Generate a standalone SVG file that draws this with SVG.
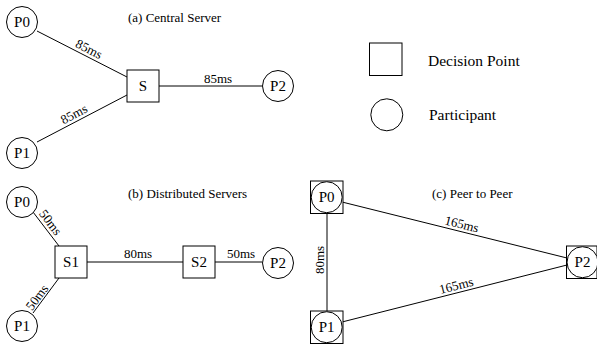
<svg xmlns="http://www.w3.org/2000/svg" width="597" height="346" viewBox="0 0 597 346">
<rect width="597" height="346" fill="#fff"/>
<g id="connectors">
<g stroke="#000" stroke-width="1">
<line x1="37" y1="31" x2="127" y2="77"/>
<line x1="37" y1="142" x2="127" y2="95"/>
<line x1="159" y1="86" x2="262" y2="86"/>
<line x1="33" y1="212" x2="59" y2="246"/>
<line x1="33" y1="313" x2="59" y2="278"/>
<line x1="87" y1="262" x2="183" y2="262"/>
<line x1="215" y1="262" x2="262" y2="262"/>
<line x1="342" y1="202" x2="567" y2="258"/>
<line x1="342" y1="322" x2="567" y2="265"/>
<line x1="327" y1="213" x2="327" y2="311"/>
</g>
<text font-family="Liberation Serif" font-size="13" text-anchor="middle" transform="translate(87,53) rotate(27)">85ms</text>
<text font-family="Liberation Serif" font-size="13" text-anchor="middle" transform="translate(76,118) rotate(-27.6)">85ms</text>
<text font-family="Liberation Serif" font-size="13" text-anchor="middle" x="218" y="83">85ms</text>
<text font-family="Liberation Serif" font-size="13" text-anchor="middle" transform="translate(47,225) rotate(52.6)">50ms</text>
<text font-family="Liberation Serif" font-size="13" text-anchor="middle" transform="translate(40.5,300) rotate(-53.4)">50ms</text>
<text font-family="Liberation Serif" font-size="13" text-anchor="middle" x="138" y="258">80ms</text>
<text font-family="Liberation Serif" font-size="13" text-anchor="middle" x="241" y="258">50ms</text>
<text font-family="Liberation Serif" font-size="13" text-anchor="middle" transform="translate(460.7,228.4) rotate(14)">165ms</text>
<text font-family="Liberation Serif" font-size="13" text-anchor="middle" transform="translate(457.3,289.8) rotate(-14.3)">165ms</text>
<text font-family="Liberation Serif" font-size="13" text-anchor="middle" transform="translate(324,260) rotate(-90)">80ms</text>
</g>
<g id="titles">
<text font-family="Liberation Serif" font-size="13" x="128" y="22">(a) Central Server</text>
<text font-family="Liberation Serif" font-size="13" x="128" y="198">(b) Distributed Servers</text>
<text font-family="Liberation Serif" font-size="13" x="432" y="198">(c) Peer to Peer</text>
</g>
<g fill="#fff" stroke="#000" stroke-width="1">
<g id="a-P0"><circle cx="22" cy="22" r="15.5"/></g>
<g id="a-P1"><circle cx="22" cy="153" r="15.5"/></g>
<g id="a-S"><rect x="127" y="70" width="32" height="32"/></g>
<g id="a-P2"><circle cx="278" cy="86" r="15.5"/></g>
<g id="b-P0"><circle cx="22" cy="202" r="15.5"/></g>
<g id="b-P1"><circle cx="22" cy="326" r="15.5"/></g>
<g id="b-S1"><rect x="55" y="246" width="32" height="32"/></g>
<g id="b-S2"><rect x="183" y="246" width="32" height="32"/></g>
<g id="b-P2"><circle cx="278" cy="263" r="15.5"/></g>
<g id="c-P0"><rect x="310.5" y="181" width="32.5" height="32.5"/><circle cx="326.7" cy="197.2" r="15.5"/></g>
<g id="c-P1"><rect x="310.5" y="311" width="32.5" height="32.5"/><circle cx="326.7" cy="327.2" r="15.5"/></g>
<g id="c-P2"><rect x="566.5" y="246" width="30.5" height="32.5"/><circle cx="582.5" cy="262.2" r="15.5"/></g>
<g id="legend-shapes"><rect x="369.5" y="43" width="32.5" height="32.5"/><circle cx="386.8" cy="114.8" r="16"/></g>
</g>
<g id="node-labels">
<text font-family="Liberation Serif" font-size="15" text-anchor="middle" x="22" y="27">P0</text>
<text font-family="Liberation Serif" font-size="15" text-anchor="middle" x="22" y="158">P1</text>
<text font-family="Liberation Serif" font-size="15" text-anchor="middle" x="143" y="91">S</text>
<text font-family="Liberation Serif" font-size="15" text-anchor="middle" x="278" y="91">P2</text>
<text font-family="Liberation Serif" font-size="15" text-anchor="middle" x="22" y="207">P0</text>
<text font-family="Liberation Serif" font-size="15" text-anchor="middle" x="22" y="331">P1</text>
<text font-family="Liberation Serif" font-size="15" text-anchor="middle" x="71" y="267">S1</text>
<text font-family="Liberation Serif" font-size="15" text-anchor="middle" x="199" y="267">S2</text>
<text font-family="Liberation Serif" font-size="15" text-anchor="middle" x="278" y="268">P2</text>
<text font-family="Liberation Serif" font-size="15" text-anchor="middle" x="326.7" y="202.2">P0</text>
<text font-family="Liberation Serif" font-size="15" text-anchor="middle" x="326.7" y="332.2">P1</text>
<text font-family="Liberation Serif" font-size="15" text-anchor="middle" x="582.5" y="267.2">P2</text>
</g>
<g id="legend-text">
<text font-family="Liberation Serif" font-size="15.5" x="428" y="66">Decision Point</text>
<text font-family="Liberation Serif" font-size="15.5" x="429" y="120">Participant</text>
</g>
</svg>
